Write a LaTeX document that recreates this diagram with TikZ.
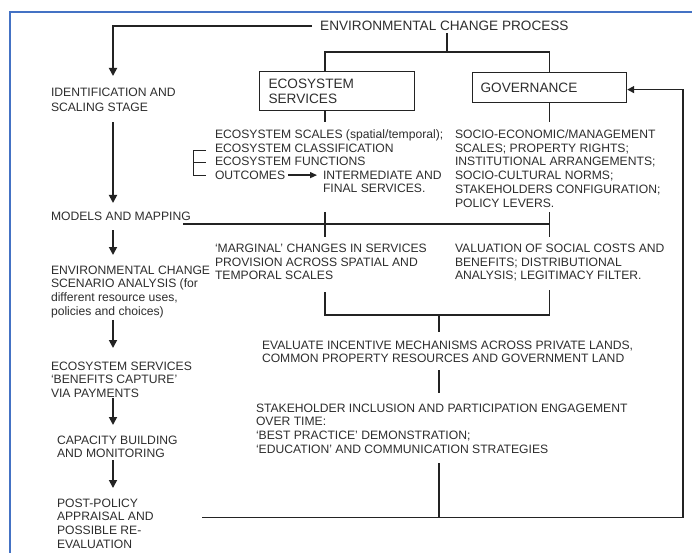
\documentclass[tikz,border=0pt]{standalone}
\usepackage{fontspec}
\setmainfont{Liberation Sans}
\usetikzlibrary{arrows.meta}

\definecolor{ink}{RGB}{45,45,45}
\definecolor{rule}{RGB}{35,35,35}
\definecolor{framecol}{RGB}{68,114,196}

\begin{document}
\begin{tikzpicture}[x=1pt, y=-1pt,
  txt/.style={inner sep=0pt, outer sep=0pt, anchor=north west, align=left,
              font=\fontsize{12.15}{13.7}\selectfont, text=ink},
  headfont/.style={font=\fontsize{13.6}{16}\selectfont, text=ink},
  box/.style={draw=rule, line width=1.2pt, anchor=north west, inner ysep=0pt,
              align=left, headfont},
  link/.style={draw=rule, line width=1.2pt},
  stepdown/.style={draw=rule, line width=1.7pt, -{Triangle[length=8pt,width=8pt]}},
  smallarrow/.style={draw=rule, line width=1.3pt, -{Triangle[length=7pt,width=6pt]}},
  feedback/.style={draw=rule, line width=1.6pt, -{Triangle[length=7pt,width=7pt]}},
  bracketline/.style={draw=rule, line width=1pt},
  framerule/.style={draw=framecol, line width=2.6pt}]

\useasboundingbox (0,0) rectangle (692,553);
\begin{scope}
  \clip (0,0) rectangle (692,553);
  \draw[framerule] (10,570) -- (10,12) -- (710,12);
\end{scope}

% ---------- heading and the two boxes ----------
\node[headfont, inner sep=0pt, anchor=west] (title) at (320,26) {ENVIRONMENTAL CHANGE PROCESS};

\node[box, minimum height=39pt, text width=137pt, inner xsep=9pt] (es) at (259,71)
  {ECOSYSTEM\\[-0.5pt]SERVICES};
\node[box, minimum height=30pt, text width=138pt, inner xsep=8pt] (gov) at (472,72)
  {GOVERNANCE};

% ---------- left column: the stages ----------
\node[txt] (ident) at (51,87.7) {IDENTIFICATION AND\\[1.3pt]SCALING STAGE};
\node[txt] (models) at (51,211.7) {MODELS AND MAPPING};
\node[txt] (envchange) at (51,265.7)
  {ENVIRONMENTAL CHANGE\\SCENARIO ANALYSIS (for\\different resource uses,\\policies and choices)};
\node[txt] (esben) at (51,361.7) {ECOSYSTEM SERVICES\\‘BENEFITS CAPTURE’\\VIA PAYMENTS};
\node[txt] (capacity) at (57,435.7) {CAPACITY BUILDING\\AND MONITORING};
\node[txt] (post) at (57,498.7) {POST-POLICY\\APPRAISAL AND\\POSSIBLE RE-\\EVALUATION};

% ---------- ecosystem services branch ----------
\node[txt] (esitems) at (215,129.7)
  {ECOSYSTEM SCALES (spatial/temporal);\\ECOSYSTEM CLASSIFICATION\\ECOSYSTEM FUNCTIONS};
\node[txt] (outcomes) at (215,170.8) {OUTCOMES};
\node[txt] (final) at (323,170.8) {INTERMEDIATE AND\\FINAL SERVICES.};
\node[txt] (marginal) at (215,244)
  {‘MARGINAL’ CHANGES IN SERVICES\\PROVISION ACROSS SPATIAL AND\\TEMPORAL SCALES};

% ---------- governance branch ----------
\node[txt] (govlist) at (455,129.7)
  {SOCIO-ECONOMIC/MANAGEMENT\\SCALES; PROPERTY RIGHTS;\\INSTITUTIONAL ARRANGEMENTS;\\SOCIO-CULTURAL NORMS;\\STAKEHOLDERS CONFIGURATION;\\POLICY LEVERS.};
\node[txt] (valuation) at (455,244)
  {VALUATION OF SOCIAL COSTS AND\\BENEFITS; DISTRIBUTIONAL\\ANALYSIS; LEGITIMACY FILTER.};

% ---------- joint stages ----------
\node[txt] (evaluate) at (262,340.7)
  {EVALUATE INCENTIVE MECHANISMS ACROSS PRIVATE LANDS,\\COMMON PROPERTY RESOURCES AND GOVERNMENT LAND};
\node[txt] (stake) at (256,403.7)
  {STAKEHOLDER INCLUSION AND PARTICIPATION ENGAGEMENT\\OVER TIME:\\‘BEST PRACTICE’ DEMONSTRATION;\\‘EDUCATION’ AND COMMUNICATION STRATEGIES};

% ---------- helper coordinates ----------
\coordinate (spine) at (113,0);
\coordinate (esx) at (325,0);
\coordinate (tsplit) at (447,52);
\coordinate (mmline) at (183,224);
\coordinate (j2) at (439,315);
\coordinate (j3) at (439,517.5);
\coordinate (fbL) at (202,517.5);
\coordinate (fbR) at (683,517.5);

% ---------- left column arrows ----------
\draw[stepdown, shorten <=8pt, shorten >=11.7pt]
  (title.west) -- (spine |- title.west) -- (ident.north -| spine);
\draw[stepdown, shorten <=10.7pt, shorten >=8.7pt] (ident.south -| spine) -- (models.north -| spine);
\draw[stepdown, shorten <=9.7pt, shorten >=10.7pt] (models.south -| spine) -- (envchange.north -| spine);
\draw[stepdown, shorten <=2pt, shorten >=13.7pt] (envchange.south -| spine) -- (esben.north -| spine);
\draw[stepdown, shorten <=0.5pt, shorten >=10.7pt] (esben.south -| spine) -- (capacity.north -| spine);
\draw[stepdown, shorten <=2pt, shorten >=10.7pt] (capacity.south -| spine) -- (post.north -| spine);

% ---------- heading split into the two boxes ----------
\draw[link, shorten <=2pt] (title.south -| tsplit) -- (tsplit);
\draw[link] (es.north -| esx) |- (tsplit) -| (gov.north);

% ---------- boxes down to their lists ----------
\draw[link, shorten >=7.7pt] (es.south -| esx) -- (esitems.north -| esx);
\draw[link, shorten >=7.7pt] (gov.south) -- (govlist.north -| gov.south);

% bracket grouping the ecosystem items
\draw[bracketline] (206,150.5) -- (193,150.5) -- (193,176) -- (206,176);
\draw[bracketline] (193,163) -- (206,163);
\draw[smallarrow, shorten <=2.7pt, shorten >=6pt] (outcomes.east) -- (final.west |- outcomes.east);

% ---------- models and mapping crossing ----------
\draw[link, shorten <=19pt, shorten >=7pt] (final.south -| esx) -- (marginal.north -| esx);
\draw[link, shorten <=5.2pt, shorten >=7pt] (govlist.south -| gov.south) -- (valuation.north -| gov.south);
\draw[link] (mmline) -- (mmline -| gov.south);

% ---------- merge into evaluation ----------
\draw[link] ([yshift=-12pt]marginal.south -| esx) |- (j2) -| ([yshift=-8.3pt]valuation.south -| gov.south);
\draw[link, shorten >=8.7pt] (j2) -- (evaluate.north -| j2);
\draw[link, shorten <=7pt, shorten >=10.7pt] (evaluate.south -| j2) -- (stake.north -| j2);
\draw[link, shorten <=9.6pt] (stake.south -| j3) -- (j3);

% ---------- feedback loop to governance ----------
\draw[feedback] (fbL) -- (fbR) |- ([yshift=-2pt]gov.east);

\end{tikzpicture}
\end{document}
